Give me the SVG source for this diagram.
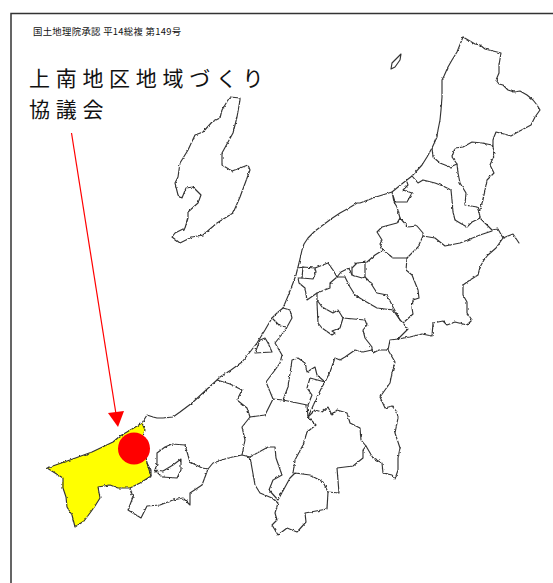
<svg xmlns="http://www.w3.org/2000/svg" width="553" height="583" viewBox="0 0 553 583">
<style>
.b{fill:none;stroke:#333;stroke-width:1.150;stroke-linejoin:round;stroke-linecap:round}
.t{font-family:"Noto Sans CJK JP","Liberation Sans",sans-serif;fill:#111}
</style>
<defs><filter id="j" x="0" y="0" width="553" height="583" filterUnits="userSpaceOnUse"><feTurbulence type="fractalNoise" baseFrequency=".28" numOctaves="2" seed="4"/><feDisplacementMap in="SourceGraphic" scale="2.600" xChannelSelector="R" yChannelSelector="G"/></filter></defs>
<rect width="553" height="583" fill="#fff"/>
<path d="M11 583V13.500H553" fill="none" stroke="#333" stroke-width="1.500"/>
<g id="joetsu">
<path class="b" filter="url(#j)" style="fill:#ff0" d="M142 423L145 430L143 437L145 450L147 463L151 476L140 483L130 488L118 488L110 485L98 487L100 498L95 506L90 513L84 521L75 527L72 515L67 507L66 497L63 488L63 478L55 473L47 468L70 460L92 452L113 442L120 436L127 432Z"/>
<circle cx="134" cy="448.500" r="16" fill="#f00"/>
</g>
<g id="connectors" class="b" filter="url(#j)">
<path id="coast" d="M463 37L457 52L452 60L448 67L444 76L442 80L442 97L441 110L440 120L438 130L437 137L432 148L427 157L422 165L412 176L403 183L392 192L376 197L360 203L357 203L349 208L340 213L331 219L323 225L315 231L308 238L304 244L302 250L300 259L298 267L296 275L293 283L288 296L283 308L277 313L272 318L265 330L257 343L250 352L242 362L231 370L220 377L217 380L205 391L192 403L180 412L173 417L163 418L157 418L153 417L147 415L142 423"/>
<path d="M463 37L475 44L480 45L485 49L501 53L499 65L499 73L496 80L499 84L503 85L508 90L514 92L520 91L527 95L533 100L537 105L540 110L535 117L533 121L531 125L516 133L511 136L504 134L496 132L494 137L493 140L493 147"/>
<path d="M432 148L433 157L440 163L450 167L457 164L452 157L455 148L463 147L472 142L482 143L492 145L495 153L490 165L494 173L487 180L485 190L483 200L479 212L480 218L472 222L467 227L460 223L455 220L453 212L452 200L451 190L443 186L435 183L423 180L418 183L412 176"/>
<path d="M457 164L458 173L460 183L466 193L465 205L477 207L479 212"/>
<path d="M480 218L492 230L498 229L503 238L513 234L519 243"/>
<path d="M503 238L496 248L488 255L484 260L480 267L478 275L470 280L463 285L463 295L467 302L467 313L472 320L467 325L455 322L447 325L443 321L433 323L432 336L422 334L410 337L398 339L390 340L388 350L379 350L373 353L372 350"/>
<path d="M492 231L480 235L470 239L460 243L445 246L435 238L423 236L423 233L417 226L408 227L400 218L397 223L382 227L377 232L382 240L380 244L383 250L375 255L367 262L357 263L352 268L352 275L362 278L365 277L365 262"/>
<path d="M423 236L418 247L407 258L393 258L383 250"/>
<path d="M407 258L406 270L412 275L418 290L419 298L413 300L412 308L413 314L403 323L408 329L398 339"/>
<path d="M400 218L397 207L394 202L392 192L395 202L407 202L412 193L403 190L408 185L407 182"/>
<path d="M365 277L370 282L377 293L387 295L393 307L400 320L403 323"/>
<path d="M337 277L341 272L349 268L352 275M337 277L345 277L350 287L355 295L363 300L377 308L393 310L400 320"/>
<path d="M337 277L333 270L328 263L315 268L303 267L298 268"/>
<path d="M303 267L302 278L313 279L316 272L315 268"/>
<path d="M302 278L298 278L299 283L305 288L307 300L317 293L330 288L330 283L337 277"/>
<path d="M317 293L317 303L318 323L322 328L332 335L335 333L332 331L340 328L343 318L338 310L333 313L322 307L317 300"/>
<path d="M343 318L365 320L367 325L363 330L365 338L372 347L372 350"/>
<path d="M388 350L395 362L392 373L390 383L380 397L385 408L392 406L397 412L398 418L395 433L400 448L398 458L398 470L395 479L392 475L383 473L382 463L373 458L366 446"/>
<path d="M283 308L290 310L292 318L287 327L280 326L273 319L272 318"/>
<path d="M287 327L283 333L275 343L282 355L280 363L275 370L266 382L273 399L265 415L250 417"/>
<path d="M265 338L260 340L255 353L272 352L268 343L265 338"/>
<path d="M217 380L230 384L242 390L237 400L247 408L250 417L242 427L245 440L242 455L228 458L213 463L208 469L202 485L190 493L190 505L183 498L173 500L160 505L147 506L141 518L128 510L133 497L130 488"/>
<path d="M208 469L202 468L190 462L185 445L172 444L165 447L157 453L157 463L155 470L162 477L177 478L181 470L181 459L173 465L163 471L155 470"/>
<path d="M147 463L151 471L151 476"/>
<path d="M242 455L250 457L268 447L275 447L276 458L282 475L273 480L269 490L278 500L290 478L295 473L310 475L323 482L328 492L339 493L337 468L353 466L363 458L363 450L366 446L361 440L360 428L350 423L347 413L337 410L332 415L328 407L322 412L315 410L308 417L316 425L307 432L303 445L295 460L293 473"/>
<path d="M250 457L255 485L260 493L272 498L278 503L275 513L277 520L272 525L278 535L287 528L297 532L306 522L305 513L327 509L328 492"/>
<path d="M308 417L307 405L283 400L273 399"/>
<path d="M283 400L288 387L292 360L298 358L305 363L307 372L315 367L317 375L325 382L330 372L335 358L340 360L345 357L355 350L363 352L372 350"/>
<path d="M325 382L322 387L317 397L308 417M325 382L310 378L307 388L312 395L308 405"/>
</g>
<g id="sado"><path class="b" filter="url(#j)" d="M230 97L240 98L240 100L237 117L233 133L222 153L222 165L232 171L248 165L250 170L240 197L233 213L217 223L203 235L192 237L180 243L172 237L175 233L185 228L188 218L188 212L198 203L201 195L193 187L186 188L182 198L178 195L175 183L178 177L180 163L188 150L195 135L203 132L212 122L220 118L222 110L228 100Z"/></g>
<g id="awashima"><path class="b" d="M401 54L392 63L391 69L395 67L400 60Z"/></g>
<g id="arrow"><path d="M71.500 133L116 414" stroke="#f00" stroke-width="1.200" fill="none"/><path d="M108 413L124 411L118 427Z" fill="#f00"/></g>
<g id="labels">
<text class="t" x="33" y="35" font-size="9.400" letter-spacing=".3">国土地理院承認 平14総複 第149号</text>
<text class="t" x="29" y="86" font-size="21" letter-spacing="5.700">上南地区地域づくり</text>
<text class="t" x="29" y="117" font-size="21" letter-spacing="5.700">協議会</text>
</g>
</svg>
